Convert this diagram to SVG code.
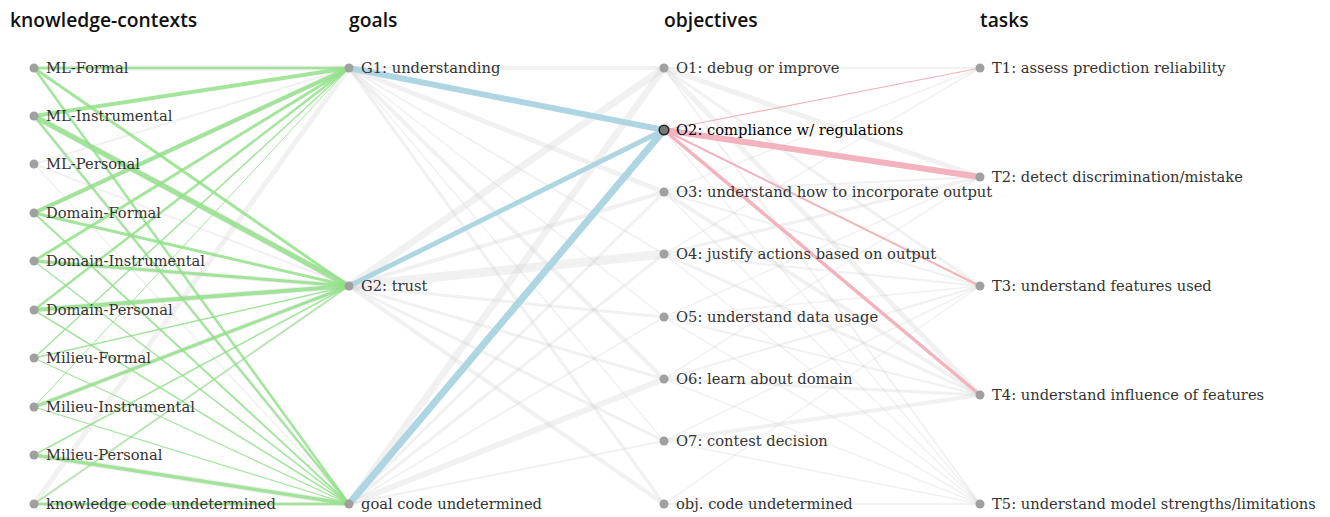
<svg xmlns="http://www.w3.org/2000/svg" width="1330" height="517" viewBox="0 0 1330 517">
<style>
.hdr{font-family:"Open Sans","Noto Sans",sans-serif;font-weight:600;font-size:19.3px;fill:#111}
.lbl{font-family:"DejaVu Serif","Liberation Serif",serif;font-size:14.7px;fill:#333}
.lbl.hi{fill:#000}
.dot{fill:#a0a0a0}
.dot.hi{fill:#777;stroke:#222;stroke-width:1.5}
.g{stroke:#cfcfcf;stroke-opacity:0.3;fill:none}
.gr{stroke:#92e08a;stroke-opacity:0.85;fill:none}
.bl{stroke:#aed6e2;fill:none}
.pk{stroke:#f2b3bf;fill:none}
</style>
<rect width="1330" height="517" fill="#fff"/>
<g id="headers">
<text class="hdr" x="10" y="27">knowledge-contexts</text>
<text class="hdr" x="349" y="27">goals</text>
<text class="hdr" x="664" y="27">objectives</text>
<text class="hdr" x="980" y="27">tasks</text>
</g>
<g id="connectors">
<g class="g">
<line x1="34" y1="68" x2="349" y2="68" stroke-width="5"/>
<line x1="34" y1="116" x2="349" y2="286" stroke-width="7"/>
<line x1="34" y1="164" x2="349" y2="68" stroke-width="2"/>
<line x1="34" y1="164" x2="349" y2="286" stroke-width="2"/>
<line x1="34" y1="164" x2="349" y2="504" stroke-width="1.5"/>
<line x1="34" y1="213" x2="349" y2="68" stroke-width="5"/>
<line x1="34" y1="261" x2="349" y2="286" stroke-width="5"/>
<line x1="34" y1="310" x2="349" y2="286" stroke-width="6"/>
<line x1="34" y1="407" x2="349" y2="286" stroke-width="5"/>
<line x1="34" y1="455" x2="349" y2="504" stroke-width="6"/>
<line x1="34" y1="504" x2="349" y2="68" stroke-width="5"/>
<line x1="34" y1="504" x2="349" y2="504" stroke-width="4"/>
<line x1="34" y1="116" x2="349" y2="504" stroke-width="4"/>
<line x1="34" y1="504" x2="349" y2="286" stroke-width="3"/>
</g>
<g class="g">
<line x1="349" y1="68" x2="664" y2="68" stroke-width="4"/>
<line x1="349" y1="68" x2="664" y2="192" stroke-width="5"/>
<line x1="349" y1="68" x2="664" y2="254" stroke-width="2"/>
<line x1="349" y1="68" x2="664" y2="317" stroke-width="1.5"/>
<line x1="349" y1="68" x2="664" y2="379" stroke-width="4"/>
<line x1="349" y1="68" x2="664" y2="441" stroke-width="1.5"/>
<line x1="349" y1="68" x2="664" y2="504" stroke-width="3"/>
<line x1="349" y1="286" x2="664" y2="68" stroke-width="7"/>
<line x1="349" y1="286" x2="664" y2="192" stroke-width="4"/>
<line x1="349" y1="286" x2="664" y2="254" stroke-width="9"/>
<line x1="349" y1="286" x2="664" y2="317" stroke-width="3"/>
<line x1="349" y1="286" x2="664" y2="379" stroke-width="3"/>
<line x1="349" y1="286" x2="664" y2="441" stroke-width="3"/>
<line x1="349" y1="286" x2="664" y2="504" stroke-width="4"/>
<line x1="349" y1="504" x2="664" y2="68" stroke-width="7"/>
<line x1="349" y1="504" x2="664" y2="192" stroke-width="3"/>
<line x1="349" y1="504" x2="664" y2="254" stroke-width="3"/>
<line x1="349" y1="504" x2="664" y2="317" stroke-width="2"/>
<line x1="349" y1="504" x2="664" y2="379" stroke-width="6"/>
<line x1="349" y1="504" x2="664" y2="441" stroke-width="2"/>
</g>
<g class="g">
<line x1="664" y1="68" x2="980" y2="68" stroke-width="2"/>
<line x1="664" y1="68" x2="980" y2="177" stroke-width="5"/>
<line x1="664" y1="68" x2="980" y2="286" stroke-width="3"/>
<line x1="664" y1="68" x2="980" y2="395" stroke-width="5"/>
<line x1="664" y1="68" x2="980" y2="504" stroke-width="2"/>
<line x1="664" y1="192" x2="980" y2="68" stroke-width="1.5"/>
<line x1="664" y1="192" x2="980" y2="177" stroke-width="2"/>
<line x1="664" y1="192" x2="980" y2="286" stroke-width="2"/>
<line x1="664" y1="192" x2="980" y2="395" stroke-width="4"/>
<line x1="664" y1="192" x2="980" y2="504" stroke-width="1.5"/>
<line x1="664" y1="254" x2="980" y2="68" stroke-width="1.5"/>
<line x1="664" y1="254" x2="980" y2="177" stroke-width="3"/>
<line x1="664" y1="254" x2="980" y2="286" stroke-width="2"/>
<line x1="664" y1="254" x2="980" y2="395" stroke-width="3"/>
<line x1="664" y1="254" x2="980" y2="504" stroke-width="1.5"/>
<line x1="664" y1="317" x2="980" y2="177" stroke-width="1.5"/>
<line x1="664" y1="317" x2="980" y2="286" stroke-width="1.5"/>
<line x1="664" y1="317" x2="980" y2="395" stroke-width="2"/>
<line x1="664" y1="317" x2="980" y2="504" stroke-width="1.5"/>
<line x1="664" y1="379" x2="980" y2="177" stroke-width="1.5"/>
<line x1="664" y1="379" x2="980" y2="286" stroke-width="2"/>
<line x1="664" y1="379" x2="980" y2="395" stroke-width="3"/>
<line x1="664" y1="379" x2="980" y2="504" stroke-width="1.5"/>
<line x1="664" y1="441" x2="980" y2="286" stroke-width="1.5"/>
<line x1="664" y1="441" x2="980" y2="395" stroke-width="4"/>
<line x1="664" y1="441" x2="980" y2="504" stroke-width="1.5"/>
<line x1="664" y1="504" x2="980" y2="286" stroke-width="1.5"/>
<line x1="664" y1="504" x2="980" y2="504" stroke-width="2"/>
<line x1="664" y1="130" x2="980" y2="504" stroke-width="1.5"/>
</g>
<g class="gr">
<line x1="34" y1="68" x2="349" y2="68" stroke-width="2.5"/>
<line x1="34" y1="68" x2="349" y2="286" stroke-width="3"/>
<line x1="34" y1="68" x2="349" y2="504" stroke-width="2.5"/>
<line x1="34" y1="116" x2="349" y2="68" stroke-width="4"/>
<line x1="34" y1="116" x2="349" y2="286" stroke-width="5"/>
<line x1="34" y1="116" x2="349" y2="504" stroke-width="2"/>
<line x1="34" y1="213" x2="349" y2="68" stroke-width="4"/>
<line x1="34" y1="213" x2="349" y2="286" stroke-width="3"/>
<line x1="34" y1="213" x2="349" y2="504" stroke-width="2"/>
<line x1="34" y1="261" x2="349" y2="68" stroke-width="3"/>
<line x1="34" y1="261" x2="349" y2="286" stroke-width="3"/>
<line x1="34" y1="261" x2="349" y2="504" stroke-width="1.5"/>
<line x1="34" y1="310" x2="349" y2="68" stroke-width="2.5"/>
<line x1="34" y1="310" x2="349" y2="286" stroke-width="4"/>
<line x1="34" y1="310" x2="349" y2="504" stroke-width="1.5"/>
<line x1="34" y1="358" x2="349" y2="68" stroke-width="1.5"/>
<line x1="34" y1="358" x2="349" y2="286" stroke-width="1.5"/>
<line x1="34" y1="358" x2="349" y2="504" stroke-width="1.2"/>
<line x1="34" y1="407" x2="349" y2="68" stroke-width="1"/>
<line x1="34" y1="407" x2="349" y2="286" stroke-width="3"/>
<line x1="34" y1="407" x2="349" y2="504" stroke-width="1.2"/>
<line x1="34" y1="455" x2="349" y2="286" stroke-width="1.5"/>
<line x1="34" y1="455" x2="349" y2="504" stroke-width="3.5"/>
<line x1="34" y1="504" x2="349" y2="286" stroke-width="1.2"/>
<line x1="34" y1="504" x2="349" y2="504" stroke-width="2.5"/>
</g>
<g class="bl">
<line x1="349" y1="68" x2="664" y2="130" stroke-width="6"/>
<line x1="349" y1="286" x2="664" y2="130" stroke-width="5"/>
<line x1="349" y1="504" x2="664" y2="130" stroke-width="7"/>
</g>
<g class="pk">
<line x1="664" y1="130" x2="980" y2="68" stroke-width="1.2"/>
<line x1="664" y1="130" x2="980" y2="177" stroke-width="6"/>
<line x1="664" y1="130" x2="980" y2="286" stroke-width="2"/>
<line x1="664" y1="130" x2="980" y2="395" stroke-width="3.5"/>
</g>
</g>
<g id="k0"><circle class="dot" cx="34" cy="68" r="4.5"/><text class="lbl" x="46" y="73">ML-Formal</text></g>
<g id="k1"><circle class="dot" cx="34" cy="116" r="4.5"/><text class="lbl" x="46" y="121">ML-Instrumental</text></g>
<g id="k2"><circle class="dot" cx="34" cy="164" r="4.5"/><text class="lbl" x="46" y="169">ML-Personal</text></g>
<g id="k3"><circle class="dot" cx="34" cy="213" r="4.5"/><text class="lbl" x="46" y="218">Domain-Formal</text></g>
<g id="k4"><circle class="dot" cx="34" cy="261" r="4.5"/><text class="lbl" x="46" y="266">Domain-Instrumental</text></g>
<g id="k5"><circle class="dot" cx="34" cy="310" r="4.5"/><text class="lbl" x="46" y="315">Domain-Personal</text></g>
<g id="k6"><circle class="dot" cx="34" cy="358" r="4.5"/><text class="lbl" x="46" y="363">Milieu-Formal</text></g>
<g id="k7"><circle class="dot" cx="34" cy="407" r="4.5"/><text class="lbl" x="46" y="412">Milieu-Instrumental</text></g>
<g id="k8"><circle class="dot" cx="34" cy="455" r="4.5"/><text class="lbl" x="46" y="460">Milieu-Personal</text></g>
<g id="k9"><circle class="dot" cx="34" cy="504" r="4.5"/><text class="lbl" x="46" y="509">knowledge code undetermined</text></g>
<g id="g1"><circle class="dot" cx="349" cy="68" r="4.5"/><text class="lbl" x="361" y="73">G1: understanding</text></g>
<g id="g2"><circle class="dot" cx="349" cy="286" r="4.5"/><text class="lbl" x="361" y="291">G2: trust</text></g>
<g id="gu"><circle class="dot" cx="349" cy="504" r="4.5"/><text class="lbl" x="361" y="509">goal code undetermined</text></g>
<g id="o1"><circle class="dot" cx="664" cy="68" r="4.5"/><text class="lbl" x="676" y="73">O1: debug or improve</text></g>
<g id="o2"><circle class="dot hi" cx="664" cy="130" r="4.8"/><text class="lbl hi" x="676" y="135">O2: compliance w/ regulations</text></g>
<g id="o3"><circle class="dot" cx="664" cy="192" r="4.5"/><text class="lbl" x="676" y="197">O3: understand how to incorporate output</text></g>
<g id="o4"><circle class="dot" cx="664" cy="254" r="4.5"/><text class="lbl" x="676" y="259">O4: justify actions based on output</text></g>
<g id="o5"><circle class="dot" cx="664" cy="317" r="4.5"/><text class="lbl" x="676" y="322">O5: understand data usage</text></g>
<g id="o6"><circle class="dot" cx="664" cy="379" r="4.5"/><text class="lbl" x="676" y="384">O6: learn about domain</text></g>
<g id="o7"><circle class="dot" cx="664" cy="441" r="4.5"/><text class="lbl" x="676" y="446">O7: contest decision</text></g>
<g id="ou"><circle class="dot" cx="664" cy="504" r="4.5"/><text class="lbl" x="676" y="509">obj. code undetermined</text></g>
<g id="t1"><circle class="dot" cx="980" cy="68" r="4.5"/><text class="lbl" x="992" y="73">T1: assess prediction reliability</text></g>
<g id="t2"><circle class="dot" cx="980" cy="177" r="4.5"/><text class="lbl" x="992" y="182">T2: detect discrimination/mistake</text></g>
<g id="t3"><circle class="dot" cx="980" cy="286" r="4.5"/><text class="lbl" x="992" y="291">T3: understand features used</text></g>
<g id="t4"><circle class="dot" cx="980" cy="395" r="4.5"/><text class="lbl" x="992" y="400">T4: understand influence of features</text></g>
<g id="t5"><circle class="dot" cx="980" cy="504" r="4.5"/><text class="lbl" x="992" y="509">T5: understand model strengths/limitations</text></g>
</svg>
